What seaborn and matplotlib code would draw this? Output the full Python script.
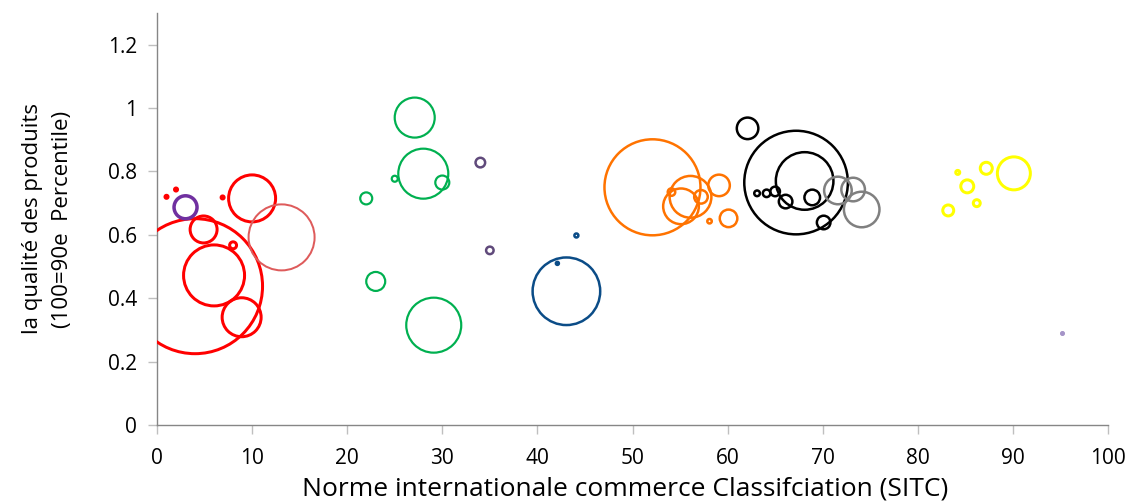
import matplotlib
matplotlib.use("Agg")
import matplotlib.pyplot as plt
import seaborn as sns
import pandas as pd

# ---- data (SITC code, quality, bubble weight) ----
rouge_x = [4.0, 6.0, 8.9, 4.9, 8.0, 10.0, 1.0, 2.0, 6.9]
rouge_y = [0.438, 0.472, 0.340, 0.617, 0.567, 0.715, 0.720, 0.743, 0.718]
rouge_w = [4556, 930, 380, 182, 12, 552, 2.3, 2.3, 2.3]

rouge_clair_x = [13.1]
rouge_clair_y = [0.592]
rouge_clair_w = [1089]

violet_x = [3.0]
violet_y = [0.687]
violet_w = [132]

vert_x = [27.1, 28.0, 30.0, 25.0, 22.0, 23.0, 29.1]
vert_y = [0.970, 0.793, 0.765, 0.777, 0.715, 0.453, 0.315]
vert_w = [400, 625, 49, 9, 36, 90, 756]

violet_fonce_x = [34.0, 35.0]
violet_fonce_y = [0.828, 0.551]
violet_fonce_w = [23, 14]

bleu_x = [43.05, 42.1, 44.1]
bleu_y = [0.422, 0.510, 0.598]
bleu_w = [1142, 2.3, 4]

orange_x = [52.1, 56.1, 55.1, 54.1, 57.2, 59.1, 58.1, 60.1]
orange_y = [0.750, 0.720, 0.690, 0.735, 0.720, 0.756, 0.643, 0.652]
orange_w = [2304, 436, 318, 14, 46, 116, 5, 77]

noir_x = [62.1, 67.2, 68.1, 63.1, 64.1, 65.0, 66.1, 68.9, 70.1]
noir_y = [0.936, 0.765, 0.770, 0.731, 0.731, 0.737, 0.705, 0.718, 0.639]
noir_w = [116, 2683, 829, 8, 14, 23, 46, 61, 46]

gris_x = [71.6, 73.2, 74.1]
gris_y = [0.740, 0.743, 0.680]
gris_w = [190, 139, 316]

jaune_x = [84.2, 87.2, 90.1, 85.2, 86.2, 83.2]
jaune_y = [0.797, 0.810, 0.794, 0.753, 0.700, 0.677]
jaune_w = [4, 36, 272, 42, 12, 30]

lilas_x = [95.2]
lilas_y = [0.290]
lilas_w = [4]

x_ticks = [0, 10, 20, 30, 40, 50, 60, 70, 80, 90, 100]
y_ticks = [0, 0.2, 0.4, 0.6, 0.8, 1, 1.2]
y_tick_labels = ["0", "0.2", "0.4", "0.6", "0.8", "1", "1.2"]

# ---- styles ----
groups = [
    (rouge_x, rouge_y, rouge_w, "#FF0000", 3.0, False),
    (rouge_clair_x, rouge_clair_y, rouge_clair_w, "#DE5B5B", 2.0, False),
    (violet_x, violet_y, violet_w, "#7030A0", 3.5, False),
    (vert_x, vert_y, vert_w, "#00B050", 2.2, False),
    (violet_fonce_x, violet_fonce_y, violet_fonce_w, "#604A7B", 2.5, False),
    (bleu_x, bleu_y, bleu_w, "#0B4C87", 2.5, False),
    (orange_x, orange_y, orange_w, "#FF7300", 2.5, False),
    (noir_x, noir_y, noir_w, "#000000", 2.5, False),
    (gris_x, gris_y, gris_w, "#808080", 2.5, False),
    (jaune_x, jaune_y, jaune_w, "#FFFF00", 3.0, False),
    (lilas_x, lilas_y, lilas_w, "#A594C8", 1.0, True),
]

sns.set_theme(style="white")
plt.rcParams["font.family"] = ["Open Sans", "DejaVu Sans"]

DPI = 100
fig = plt.figure(figsize=(11.30, 5.01), dpi=DPI)
ax = fig.add_axes([157 / 1130, 1 - 425 / 501, 951 / 1130, 412 / 501])

px_to_pt = 72.0 / DPI
norm_max = 10000.0
size_max = norm_max * (2 * px_to_pt) ** 2

for gx, gy, gw, col, lw_px, filled in groups:
    df = pd.DataFrame({"x": gx, "y": gy, "w": gw})
    sns.scatterplot(
        data=df, x="x", y="y", size="w",
        size_norm=(0, norm_max), sizes=(0, size_max),
        facecolor=col if filled else "none", edgecolor=col,
        linewidth=lw_px * px_to_pt, legend=False, ax=ax, zorder=3,
    )

ax.set_xlim(0, 100)
ax.set_ylim(0, 1.3)
ax.set_xticks(x_ticks)
ax.set_yticks(y_ticks)
ax.set_yticklabels(y_tick_labels)

for side in ["top", "right"]:
    ax.spines[side].set_visible(False)
for side in ["left", "bottom"]:
    ax.spines[side].set_color("#868686")
    ax.spines[side].set_linewidth(1.0)

ax.tick_params(axis="both", which="major", direction="out", length=6.5,
               width=1.0, color="#BFBFBF", labelsize=15, labelcolor="#000000",
               left=True, bottom=True)
ax.tick_params(axis="x", pad=10)
ax.tick_params(axis="y", pad=8)

ax.set_xlabel("Norme internationale commerce Classifciation (SITC)",
              fontsize=19, color="#000000")
ax.xaxis.set_label_coords(0.492, -0.126)
ax.set_ylabel("la qualité des produits\n(100=90e  Percentile)",
              fontsize=16, color="#000000", linespacing=1.6)
ax.yaxis.set_label_coords(-0.088, 0.5)

fig.savefig("out.png", dpi=DPI)
